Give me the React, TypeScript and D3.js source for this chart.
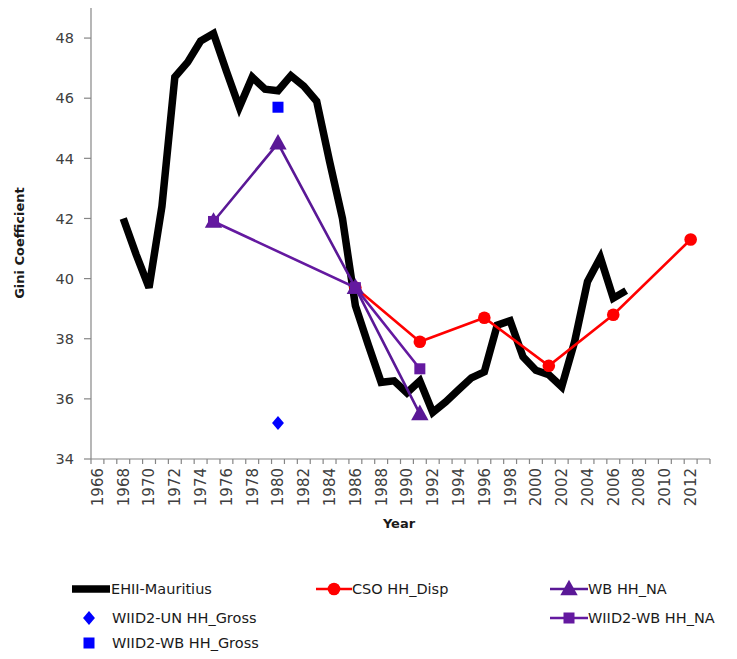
import React from "react";
import * as d3 from "d3";

const categories: number[] = d3.range(1966, 2014);
const xTickLabels: number[] = d3.range(1966, 2013, 2);
const yTicks: number[] = [34, 36, 38, 40, 42, 44, 46, 48];

const ehiiYears: number[] = [1968, 1969, 1970, 1971, 1972, 1973, 1974, 1975, 1976, 1977, 1978, 1979, 1980, 1981, 1982, 1983, 1984, 1985, 1986, 1987, 1988, 1989, 1990, 1991, 1992, 1993, 1994, 1995, 1996, 1997, 1998, 1999, 2000, 2001, 2002, 2003, 2004, 2005, 2006, 2007];
const ehiiValues: number[] = [42.0, 40.8, 39.7, 42.4, 46.7, 47.2, 47.9, 48.15, 46.9, 45.7, 46.7, 46.3, 46.25, 46.75, 46.4, 45.9, 43.9, 42.0, 39.1, 37.8, 36.55, 36.6, 36.2, 36.6, 35.55, 35.9, 36.3, 36.7, 36.9, 38.45, 38.6, 37.4, 36.95, 36.8, 36.4, 37.9, 39.9, 40.7, 39.35, 39.6];

const csoYears: number[] = [1986, 1991, 1996, 2001, 2006, 2012];
const csoValues: number[] = [39.7, 37.9, 38.7, 37.1, 38.8, 41.3];

const wbYears: number[] = [1975, 1980, 1986, 1991];
const wbValues: number[] = [41.9, 44.5, 39.7, 35.5];

const wiidWbNaYears: number[] = [1975, 1986, 1991];
const wiidWbNaValues: number[] = [41.9, 39.7, 37.0];

const wiidUnGrossYears: number[] = [1980];
const wiidUnGrossValues: number[] = [35.2];

const wiidWbGrossYears: number[] = [1980];
const wiidWbGrossValues: number[] = [45.7];

const W = 737;
const H = 659;
const plotLeft = 91;
const plotRight = 710;
const plotTop = 8;
const plotBottom = 459;

const BLACK = "#000000";
const RED = "#FF0000";
const PURPLE1 = "#5A1896";
const PURPLE2 = "#6419A0";
const BLUE = "#0000FF";
const AXIS = "#868686";
const LABEL = "#404040";
const FONT = "'DejaVu Sans', Verdana, sans-serif";

function zip(years: number[], values: number[]) {
  return years.map((y, i) => ({ year: y, value: values[i] }));
}

export default function App() {
  const x = d3.scaleBand<number>().domain(categories).range([plotLeft, plotRight]).padding(0);
  const y = d3.scaleLinear().domain([34, 49]).range([plotBottom, plotTop]);
  const cx = (yr: number) => (x(yr) as number) + x.bandwidth() / 2;

  const line = d3
    .line<{ year: number; value: number }>()
    .x((d) => cx(d.year))
    .y((d) => y(d.value));

  const ehii = zip(ehiiYears, ehiiValues);
  const cso = zip(csoYears, csoValues);
  const wb = zip(wbYears, wbValues);
  const wiidNa = zip(wiidWbNaYears, wiidWbNaValues);
  const unGross = zip(wiidUnGrossYears, wiidUnGrossValues);
  const wbGross = zip(wiidWbGrossYears, wiidWbGrossValues);

  const triangle = (px: number, py: number, s: number) =>
    `M${px},${py - s * 0.62} L${px + s * 0.58},${py + s * 0.42} L${px - s * 0.58},${py + s * 0.42} Z`;
  const diamond = (px: number, py: number, s: number) =>
    `M${px},${py - s} L${px + s * 0.85},${py} L${px},${py + s} L${px - s * 0.85},${py} Z`;

  const boundaries = d3.range(0, categories.length + 1).map((k) => plotLeft + k * x.step());

  const legendRows = [589, 618, 643];

  return (
    <div style={{ position: "absolute", left: 0, top: 0 }}>
      <svg width={W} height={H} style={{ display: "block", background: "#fff" }}>
        <rect x={0} y={0} width={W} height={H} fill="#fff" />
        {/* axes */}
        <line x1={plotLeft} x2={plotLeft} y1={plotTop} y2={plotBottom} stroke={AXIS} strokeWidth={1.2} />
        <line x1={plotLeft} x2={plotRight} y1={plotBottom} y2={plotBottom} stroke={AXIS} strokeWidth={1.2} />
        {yTicks.map((t) => (
          <g key={"yt" + t}>
            <line x1={plotLeft - 7} x2={plotLeft} y1={y(t)} y2={y(t)} stroke={AXIS} strokeWidth={1.2} />
            <text x={74} y={y(t)} dy="0.36em" textAnchor="end" fontFamily={FONT} fontSize={14.5} fill={LABEL}>
              {t}
            </text>
          </g>
        ))}
        {boundaries.map((bx, i) => (
          <line key={"xt" + i} x1={bx} x2={bx} y1={plotBottom} y2={plotBottom + 5} stroke={AXIS} strokeWidth={1.2} />
        ))}
        {xTickLabels.map((t) => (
          <text
            key={"xl" + t}
            transform={`translate(${cx(t)},${plotBottom + 9}) rotate(-90)`}
            textAnchor="end"
            dy="0.36em"
            fontFamily={FONT}
            fontSize={15}
            fill={LABEL}
          >
            {t}
          </text>
        ))}
        <text x={399} y={528} textAnchor="middle" fontFamily={FONT} fontWeight="bold" fontSize={13} fill="#1a1a1a">
          Year
        </text>
        <text
          transform={`translate(24,243) rotate(-90)`}
          textAnchor="middle"
          fontFamily={FONT}
          fontWeight="bold"
          fontSize={13}
          fill="#1a1a1a"
        >
          Gini Coefficient
        </text>

        {/* series */}
        <path d={line(ehii) || ""} fill="none" stroke={BLACK} strokeWidth={7.5} strokeLinejoin="miter" strokeMiterlimit={3} />
        <path d={line(cso) || ""} fill="none" stroke={RED} strokeWidth={2.6} />
        {cso.map((d) => (
          <circle key={"c" + d.year} cx={cx(d.year)} cy={y(d.value)} r={6.3} fill={RED} />
        ))}
        <path d={line(wb) || ""} fill="none" stroke={PURPLE1} strokeWidth={2.6} />
        {wb.map((d) => (
          <path key={"t" + d.year} d={triangle(cx(d.year), y(d.value), 15)} fill={PURPLE1} />
        ))}
        {unGross.map((d) => (
          <path key={"d" + d.year} d={diamond(cx(d.year), y(d.value), 7)} fill={BLUE} />
        ))}
        <path d={line(wiidNa) || ""} fill="none" stroke={PURPLE2} strokeWidth={2.6} />
        {wiidNa.map((d) => (
          <rect key={"s" + d.year} x={cx(d.year) - 5.5} y={y(d.value) - 5.5} width={11} height={11} fill={PURPLE2} />
        ))}
        {wbGross.map((d) => (
          <rect key={"b" + d.year} x={cx(d.year) - 5.5} y={y(d.value) - 5.5} width={11} height={11} fill={BLUE} />
        ))}

        {/* legend */}
        <g fontFamily={FONT} fontSize={14.5} fill="#1a1a1a">
          <line x1={72} x2={110} y1={legendRows[0]} y2={legendRows[0]} stroke={BLACK} strokeWidth={7.5} />
          <text x={111} y={legendRows[0]} dy="0.36em">EHII-Mauritius</text>

          <path d={diamond(89, legendRows[1], 7)} fill={BLUE} />
          <text x={112} y={legendRows[1]} dy="0.36em">WIID2-UN HH_Gross</text>

          <rect x={83.5} y={legendRows[2] - 5.5} width={11} height={11} fill={BLUE} />
          <text x={112} y={legendRows[2]} dy="0.36em">WIID2-WB HH_Gross</text>

          <line x1={316} x2={352} y1={legendRows[0]} y2={legendRows[0]} stroke={RED} strokeWidth={2.6} />
          <circle cx={334} cy={legendRows[0]} r={6.3} fill={RED} />
          <text x={352} y={legendRows[0]} dy="0.36em">CSO HH_Disp</text>

          <line x1={550} x2={588} y1={legendRows[0]} y2={legendRows[0]} stroke={PURPLE1} strokeWidth={2.6} />
          <path d={triangle(569, legendRows[0], 15)} fill={PURPLE1} />
          <text x={588} y={legendRows[0]} dy="0.36em">WB HH_NA</text>

          <line x1={550} x2={588} y1={legendRows[1]} y2={legendRows[1]} stroke={PURPLE2} strokeWidth={2.6} />
          <rect x={563.5} y={legendRows[1] - 5.5} width={11} height={11} fill={PURPLE2} />
          <text x={588} y={legendRows[1]} dy="0.36em">WIID2-WB HH_NA</text>
        </g>
      </svg>
    </div>
  );
}
